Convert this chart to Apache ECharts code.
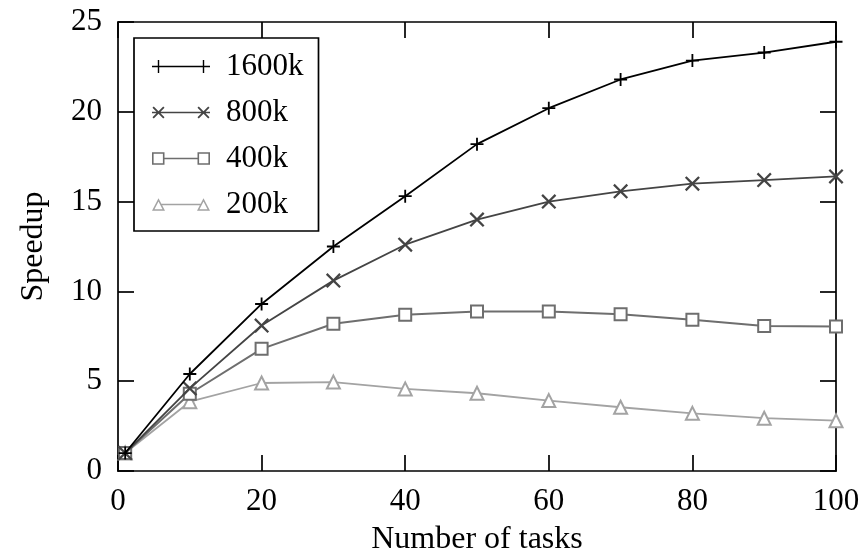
<!DOCTYPE html>
<html>
<head>
<meta charset="utf-8">
<script src="https://cdn.jsdelivr.net/npm/echarts@6/dist/echarts.min.js"></script>
<style>html,body{margin:0;padding:0;background:#fff}#c{width:866px;height:558px}</style>
</head>
<body>
<div id="c"></div>
<script>
const tasks = [1, 10, 20, 30, 40, 50, 60, 70, 80, 90, 100];
const s1600k = [1.0, 5.4, 9.3, 12.5, 15.3, 18.2, 20.2, 21.8, 22.85, 23.3, 23.9];
const s800k  = [1.0, 4.6, 8.1, 10.6, 12.6, 14.0, 15.0, 15.57, 16.0, 16.2, 16.4];
const s400k  = [1.0, 4.3, 6.8, 8.2, 8.7, 8.88, 8.88, 8.73, 8.42, 8.08, 8.04];
const s200k  = [1.0, 3.86, 4.9, 4.95, 4.57, 4.33, 3.92, 3.55, 3.21, 2.94, 2.80];
const seriesNames = ['1600k', '800k', '400k', '200k'];
const xTicks = {min: 0, max: 100, interval: 20};
const yTicks = {min: 0, max: 25, interval: 5};

const FONT = 'Liberation Serif';
const FS = 31;
const NAME_FS = 32;

const plusSym = 'path://M-0.14,-1H0.14V-0.14H1V0.14H0.14V1H-0.14V0.14H-1V-0.14H-0.14Z';
const crossSym = 'path://M0.622,-0.792L0.792,-0.622L0.17,0L0.792,0.622L0.622,0.792L0,0.17L-0.622,0.792L-0.792,0.622L-0.17,0L-0.792,-0.622L-0.622,-0.792L0,-0.17Z';

function xPoly(c) {
  const pts = [[4.73,-6.02],[6.02,-4.73],[1.29,0],[6.02,4.73],[4.73,6.02],[0,1.29],[-4.73,6.02],[-6.02,4.73],[-1.29,0],[-6.02,-4.73],[-4.73,-6.02],[0,-1.29]];
  return 'M' + pts.map(p => (c + p[0]).toFixed(2) + ',' + (7 + p[1]).toFixed(2)).join('L') + 'Z';
}
const legIcons = {
  '1600k': 'path://M0,6.3H58V7.7H0Z M5.8,0.5H7.2V13.5H5.8Z M50.8,0.5H52.2V13.5H50.8Z',
  '800k': 'path://M0,6.3H58V7.7H0Z ' + xPoly(6.5) + ' ' + xPoly(51.5),
  '400k': 'path://M0,0.75H12.5V13.25H0Z M1.6,2.35V11.65H10.9V2.35Z M12.5,6.25H45.5V7.75H12.5Z M45.5,0.75H58V13.25H45.5Z M47.1,2.35V11.65H56.4V2.35Z',
  '200k': 'path://M6.5,0.75L13,13.25L0,13.25Z M6.5,4L2.47,11.75L10.53,11.75Z M9.5,6.3H48.5V7.7H9.5Z M51.5,0.75L58,13.25L45,13.25Z M51.5,4L47.47,11.75L55.53,11.75Z'
};

const colors = {'1600k': '#000000', '800k': '#444444', '400k': '#6e6e6e', '200k': '#a3a3a3'};

function pairs(ys) { return tasks.map((x, i) => [x, ys[i]]); }

const axisCommon = {
  axisLine: {show: true, onZero: false, lineStyle: {color: '#000', width: 1.7}},
  axisTick: {show: true, inside: true, length: 16, lineStyle: {color: '#000', width: 1.7}},
  splitLine: {show: false}
};

const option = {
  animation: false,
  backgroundColor: '#fff',
  grid: {left: 118, right: 30, top: 22, bottom: 87, containLabel: false, outerBoundsMode: 'none'},
  legend: {
    orient: 'vertical', left: 134, top: 38,
    padding: [13, 15, 11, 18],
    itemGap: 15, itemWidth: 58, itemHeight: 14,
    backgroundColor: '#fff', borderColor: '#000', borderWidth: 1.7,
    textStyle: {fontFamily: FONT, fontSize: FS, color: '#000', lineHeight: 24, padding: [0, 0, 0, 11]},
    itemStyle: {borderWidth: 0},
    data: seriesNames.map(n => ({name: n, icon: legIcons[n]}))
  },
  xAxis: [
    Object.assign({type: 'value', position: 'bottom', min: xTicks.min, max: xTicks.max, interval: xTicks.interval,
      name: 'Number of tasks', nameLocation: 'middle', nameGap: 53,
      nameTextStyle: {fontFamily: FONT, fontSize: NAME_FS, color: '#000'},
      axisLabel: {fontFamily: FONT, fontSize: FS, color: '#000', margin: 15}}, axisCommon),
    Object.assign({type: 'value', position: 'top', min: xTicks.min, max: xTicks.max, interval: xTicks.interval,
      axisLabel: {show: false}}, axisCommon)
  ],
  yAxis: [
    Object.assign({type: 'value', position: 'left', min: yTicks.min, max: yTicks.max, interval: yTicks.interval,
      name: 'Speedup', nameLocation: 'middle', nameGap: 68, nameRotate: 90,
      nameTextStyle: {fontFamily: FONT, fontSize: NAME_FS, color: '#000'},
      axisLabel: {fontFamily: FONT, fontSize: FS, color: '#000', margin: 16}}, axisCommon),
    Object.assign({type: 'value', position: 'right', min: yTicks.min, max: yTicks.max, interval: yTicks.interval,
      axisLabel: {show: false}}, axisCommon)
  ],
  series: [
    {name: '1600k', type: 'line', data: pairs(s1600k), symbol: plusSym, symbolSize: 13,
      lineStyle: {color: colors['1600k'], width: 1.8}, itemStyle: {color: colors['1600k'], borderWidth: 0}, z: 5},
    {name: '800k', type: 'line', data: pairs(s800k), symbol: crossSym, symbolSize: 15,
      lineStyle: {color: colors['800k'], width: 1.8}, itemStyle: {color: colors['800k'], borderWidth: 0}, z: 4},
    {name: '400k', type: 'line', data: pairs(s400k), symbol: 'emptyRect', symbolSize: 12,
      lineStyle: {color: colors['400k'], width: 2}, itemStyle: {color: colors['400k'], borderWidth: 1.9}, z: 3},
    {name: '200k', type: 'line', data: pairs(s200k), symbol: 'emptyTriangle', symbolSize: 13,
      lineStyle: {color: colors['200k'], width: 1.8}, itemStyle: {color: colors['200k'], borderWidth: 1.7}, z: 2}
  ]
};

const chart = echarts.init(document.getElementById('c'), null, {renderer: 'canvas'});
chart.setOption(option);
</script>
</body>
</html>
